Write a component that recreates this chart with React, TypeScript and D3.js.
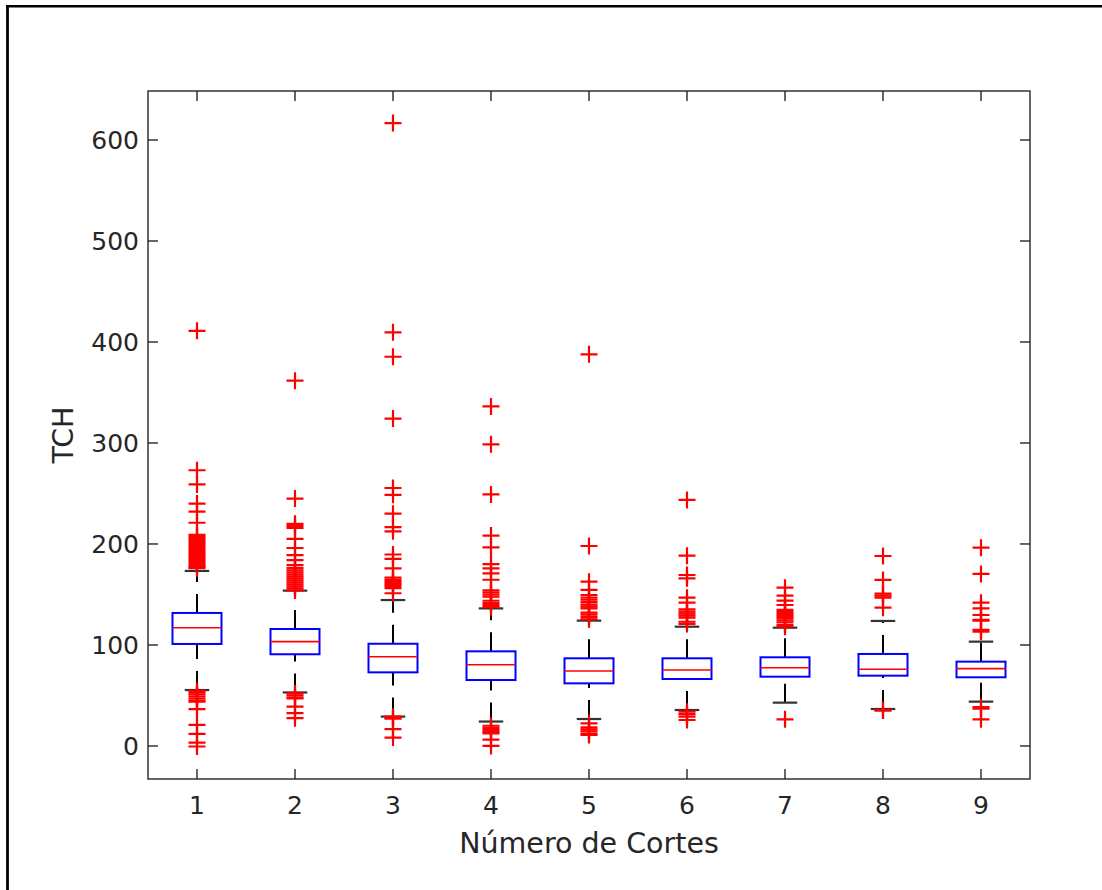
import React from 'react';
import * as d3 from 'd3';

// --- data ---
const categories = ['1', '2', '3', '4', '5', '6', '7', '8', '9'];
const q1 = [101, 90.8, 72.9, 65.3, 62, 66.3, 68.6, 69.6, 68];
const medians = [117, 103.3, 88.3, 80.4, 74.3, 75.2, 77.5, 75.9, 76.6];
const q3 = [131.7, 115.8, 101.2, 93.7, 86.8, 86.8, 87.8, 91.1, 83.5];
const whiskerLow = [55.4, 53, 29.1, 24.2, 26.7, 35.6, 42.9, 36.6, 43.9];
const whiskerHigh = [173.3, 153.8, 144.5, 136.2, 124.1, 118.1, 117.1, 123.8, 103.3];
const outliers: number[][] = [
  [411, 273, 259, 240, 232, 221, 209, 207, 205, 203, 201, 199, 197, 195, 193, 191, 189, 187, 185, 183, 181, 179, 177, 176,
    54.5, 53, 51, 49, 47, 45, 44, 36.5, 20.8, 11.9, 3.3, -0.5],
  [361.7, 245, 220, 218, 216, 205, 196, 189, 184, 179, 176, 174, 172, 170, 168, 166, 164, 162, 160, 158, 156, 154,
    52, 50, 48, 47, 39, 32.6, 27.5],
  [616.7, 409.6, 385.4, 324.2, 255.4, 248.7, 230, 216.6, 212.5, 189.6, 185.3, 175.8, 166.6, 164.5, 162.5, 160.5, 158.5, 156.2, 151.2,
    29, 28, 27, 16.6, 8.3],
  [336.2, 298.7, 249.1, 208.3, 196.6, 180, 175.8, 170.8, 164.6, 154.2, 152, 150, 147.9, 143.8, 141.5, 139.5, 137.4,
    20, 18, 16, 14, 12.5, 6.2, 0],
  [387.8, 198, 162.7, 154.5, 149.5, 147, 145, 142.5, 140, 138, 136.3, 132, 130, 127.5, 125.4,
    22.4, 18.5, 16.5, 14.5, 12, 10.9],
  [243.6, 188.4, 169.3, 166, 146.8, 141.9, 135.3, 133, 131, 129, 127, 123, 120.8,
    34, 31.5, 29, 25.7],
  [156.7, 148.8, 143.9, 139.6, 134.7, 132.5, 130.5, 128.5, 126.5, 124.5, 122.5, 120, 118.1,
    26.4],
  [188.1, 164.4, 150.8, 148.8, 146.8, 136.9,
    35.6, 35],
  [196.3, 170.3, 141.9, 136.3, 129.7, 124.8, 124, 114.9, 113.2,
    38.5, 37, 26.4],
];
const yTicks = [0, 100, 200, 300, 400, 500, 600];
const xLabel = 'Número de Cortes';
const yLabel = 'TCH';

const W = 1102;
const H = 890;
const plot = { left: 148, top: 91, right: 1030, bottom: 779 };
const axisColor = '#262626';
const font = '"DejaVu Sans", Verdana, sans-serif';

export default function App() {
  const x = d3.scaleLinear().domain([0.5, categories.length + 0.5]).range([plot.left, plot.right]);
  const y = d3.scaleLinear().domain([-32.7, 648.5]).range([plot.bottom, plot.top]);

  const boxHalf = x(1.25) - x(1);
  const capHalf = x(1.125) - x(1);
  const mk = 8.5; // half size of the + marker
  const tick = 10;

  return (
    <div style={{ position: 'absolute', left: 0, top: 0 }}>
      <svg width={W} height={H} style={{ display: 'block', background: '#fff', overflow: 'hidden' }}>
        {/* figure frame, only left and top edges fall inside the picture */}
        <line x1={7.5} x2={7.5} y1={5} y2={H} stroke="#000" strokeWidth={2.8} />
        <line x1={6} x2={W} y1={6.3} y2={6.3} stroke="#000" strokeWidth={2.6} />

        {/* axes box */}
        <rect x={plot.left} y={plot.top} width={plot.right - plot.left} height={plot.bottom - plot.top}
          fill="#fff" stroke={axisColor} strokeWidth={1.4} />

        {/* y ticks and labels */}
        {yTicks.map(t => (
          <g key={'y' + t}>
            <line x1={plot.left} x2={plot.left + tick} y1={y(t)} y2={y(t)} stroke={axisColor} strokeWidth={1.4} />
            <line x1={plot.right} x2={plot.right - tick} y1={y(t)} y2={y(t)} stroke={axisColor} strokeWidth={1.4} />
            <text x={plot.left - 9} y={y(t)} dy="0.36em" textAnchor="end" fontFamily={font} fontSize={25} fill={axisColor}>{t}</text>
          </g>
        ))}

        {/* x ticks and labels */}
        {categories.map((c, i) => (
          <g key={'x' + c}>
            <line x1={x(i + 1)} x2={x(i + 1)} y1={plot.bottom} y2={plot.bottom - tick} stroke={axisColor} strokeWidth={1.4} />
            <line x1={x(i + 1)} x2={x(i + 1)} y1={plot.top} y2={plot.top + tick} stroke={axisColor} strokeWidth={1.4} />
            <text x={x(i + 1)} y={814} textAnchor="middle" fontFamily={font} fontSize={25} fill={axisColor}>{c}</text>
          </g>
        ))}

        {/* boxes */}
        {categories.map((c, i) => {
          const cx = x(i + 1);
          return (
            <g key={'b' + c}>
              <line x1={cx} x2={cx} y1={y(whiskerLow[i])} y2={y(q1[i])} stroke="#000" strokeWidth={2} strokeDasharray="19,12" />
              <line x1={cx} x2={cx} y1={y(q3[i])} y2={y(whiskerHigh[i])} stroke="#000" strokeWidth={2} strokeDasharray="19,12" />
              <line x1={cx - capHalf} x2={cx + capHalf} y1={y(whiskerLow[i])} y2={y(whiskerLow[i])} stroke="#333" strokeWidth={2.2} />
              <line x1={cx - capHalf} x2={cx + capHalf} y1={y(whiskerHigh[i])} y2={y(whiskerHigh[i])} stroke="#333" strokeWidth={2.2} />
              <rect x={cx - boxHalf} y={y(q3[i])} width={boxHalf * 2} height={y(q1[i]) - y(q3[i])}
                fill="none" stroke="#0000ff" strokeWidth={2} />
              <line x1={cx - boxHalf} x2={cx + boxHalf} y1={y(medians[i])} y2={y(medians[i])} stroke="#ff0000" strokeWidth={1.6} />
              {outliers[i].map((v, j) => (
                <path key={j} d={`M${cx - mk},${y(v)}H${cx + mk}M${cx},${y(v) - mk}V${y(v) + mk}`}
                  stroke="#ff0000" strokeWidth={2.2} fill="none" />
              ))}
            </g>
          );
        })}

        {/* axis labels */}
        <text x={(plot.left + plot.right) / 2} y={853} textAnchor="middle" fontFamily={font} fontSize={28.5} fill={axisColor}>{xLabel}</text>
        <text transform={`translate(73,${(plot.top + plot.bottom) / 2}) rotate(-90)`} textAnchor="middle"
          fontFamily={font} fontSize={28.5} fill={axisColor}>{yLabel}</text>
      </svg>
    </div>
  );
}
